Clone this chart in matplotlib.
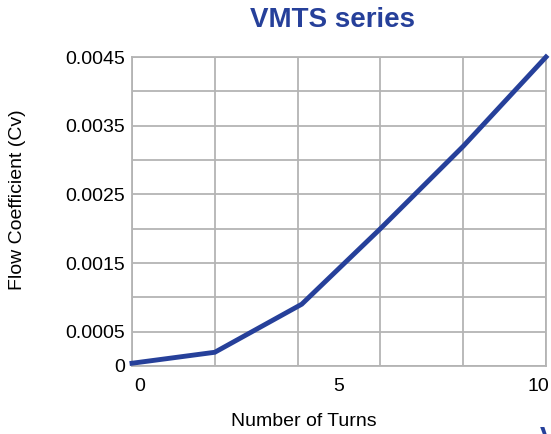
import matplotlib
matplotlib.use("Agg")
import matplotlib.pyplot as plt

plt.rcParams['font.family'] = ['Liberation Sans', 'DejaVu Sans']

turns = [0, 2, 4.1, 6, 8, 10]
flow_cv = [0.00004, 0.0002, 0.0009, 0.002, 0.0032, 0.0045]

y_grid = [i * 0.0005 for i in range(10)]
y_labels = ['0', '0.0005', '', '0.0015', '', '0.0025', '', '0.0035', '', '0.0045']
x_grid = [0, 2, 4, 6, 8, 10]
x_labels = ['0', '5', '10']

blue = '#26409a'
grid_col = '#b4b4b4'

fig = plt.figure(figsize=(5.51, 4.34), dpi=100)
ax = fig.add_axes([132 / 551, 1 - 366 / 434, 414 / 551, 309 / 434])

ax.plot(turns, flow_cv, color=blue, lw=3.5, solid_joinstyle='miter', clip_on=False, zorder=3)

ax.set_xlim(0, 10)
ax.set_ylim(0, 0.0045)
ax.set_xticks(x_grid)
ax.set_xticklabels([''] * len(x_grid))
ax.set_yticks(y_grid)
ax.set_yticklabels(y_labels, fontsize=14)
ax.tick_params(length=0, pad=5)
ax.grid(True, color=grid_col, lw=1.3)
for s in ax.spines.values():
    s.set_color(grid_col)
    s.set_linewidth(1.3)

# x tick labels sit at 0, 5, 10 (not on the grid lines)
for xv, lab, ha in zip([0.05, 5, 10.08], x_labels, ['left', 'center', 'right']):
    ax.text(xv, -0.00018, lab, ha=ha, va='top', fontsize=14,
            transform=ax.transData, clip_on=False)

fig.text(304 / 551, 1 - 421 / 434, 'Number of Turns', ha='center', va='center', fontsize=14)
fig.text(18 / 551, 1 - 200 / 434, 'Flow Coefficient (Cv)', ha='center', va='center',
         rotation=90, fontsize=14)
fig.text(332 / 551, 1 - 20 / 434, 'VMTS series', ha='center', va='center',
         fontsize=20, fontweight='bold', color=blue)
fig.text(540 / 551, 1 - 426 / 434, 'V', ha='left', va='top',
         fontsize=20, fontweight='bold', color=blue)

fig.savefig('out.png', dpi=100)
